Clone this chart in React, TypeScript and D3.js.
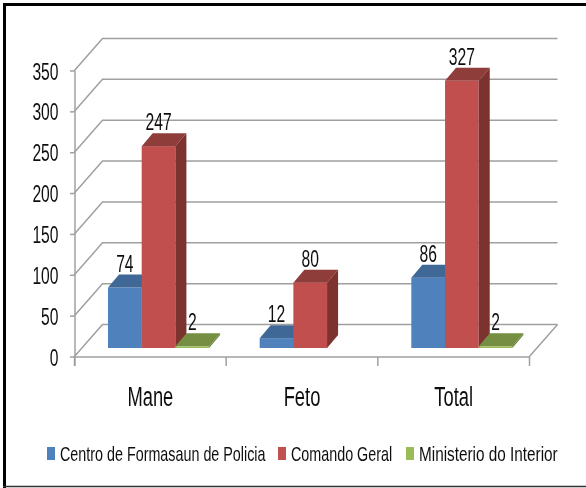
import React from "react";
import * as d3 from "d3";

const categories = ["Mane", "Feto", "Total"];
const seriesNames = ["Centro de Formasaun de Policia", "Comando Geral", "Ministerio do Interior"];
const centro = [74, 12, 86];
const comando = [247, 80, 327];
const ministerio = [2, 0, 2];
const yTicks = [0, 50, 100, 150, 200, 250, 300, 350];
const seriesValues = [centro, comando, ministerio];
const front = ["#4f81bd", "#c0504d", "#9bbb59"];
const topc = ["#3f6797", "#8f3c3a", "#748e42"];
const side = ["#3a5f8c", "#7c302e", "#6b8239"];
const legendX = [47, 278, 406];
const legendSx = [0.717, 0.717, 0.766];

const FONT = "'Liberation Sans',Arial,sans-serif";

function NText(props: { x: number; y: number; sx: number; size: number; anchor?: string; children: React.ReactNode }) {
  const { x, y, sx, size, anchor, children } = props;
  return (
    <text transform={`translate(${x},${y}) scale(${sx},1)`} textAnchor={anchor || "start"}
      fontFamily={FONT} fontSize={size} fill="#111">{children}</text>
  );
}

export default function App() {
  const x = d3.scaleBand<string>().domain(categories).range([74, 529]).padding(0);
  const h = d3.scaleLinear().domain([0, 350]).range([357, 71]);
  const bh = (v: number) => 357 - h(v);
  const dx = 28.5, dy = 32.5;
  const barW = 33.7, barDx = 11, barDy = 13, barBase = 348, barOff = 34;
  const ticks = [...categories.map((c) => x(c) as number), 529];
  return (
    <svg width={586} height={488} style={{ position: "absolute", left: 0, top: 0, background: "#fff" }}>
      <defs>
        <filter id="soft" x="-5%" y="-5%" width="110%" height="110%">
          <feGaussianBlur stdDeviation="0.45" />
        </filter>
      </defs>
      <rect x={0} y={0} width={586} height={488} fill="#fff" />
      <g filter="url(#soft)">
        <path d="M4.5,488V4.5H586" fill="none" stroke="#000" strokeWidth={3} />
        <line x1={3} x2={586} y1={486.5} y2={486.5} stroke="#333" strokeWidth={1.5} />
        {yTicks.map((t) => (
          <g key={t} stroke="#a0a0a0" strokeWidth={1.5} fill="none">
            <path d={`M74,${h(t)}L${74 + dx},${h(t) - dy}H${529 + dx}`} />
            <line x1={70} x2={74} y1={h(t)} y2={h(t)} />
          </g>
        ))}
        <g stroke="#a0a0a0" strokeWidth={1.5} fill="none">
          <line x1={75} x2={75} y1={h(350)} y2={366} />
          <line x1={74} x2={529} y1={357} y2={357} />
          <line x1={529} x2={529 + dx} y1={357} y2={357 - dy} />
          {ticks.map((t) => (
            <line key={t} x1={t + 0.5} x2={t + 0.5} y1={357} y2={366} />
          ))}
        </g>
        {categories.map((c, ci) =>
          seriesValues.map((vals, si) => {
            const v = vals[ci];
            if (v === 0) return null;
            const x0 = (x(c) as number) + barOff + si * barW;
            const H = bh(v);
            const yt = barBase - H;
            return (
              <g key={c + si}>
                <rect x={x0} y={yt} width={barW} height={H} fill={front[si]} />
                <path d={`M${x0},${yt}l${barDx},${-barDy}h${barW}l${-barDx},${barDy}z`} fill={topc[si]} />
                <path d={`M${x0 + barW},${yt}l${barDx},${-barDy}v${H}l${-barDx},${barDy}z`} fill={side[si]} />
              </g>
            );
          })
        )}
        {categories.map((c, ci) =>
          seriesValues.map((vals, si) => {
            const v = vals[ci];
            if (v === 0) return null;
            const x0 = (x(c) as number) + barOff + si * barW;
            return (
              <NText key={c + si} x={x0 + barW / 2} y={barBase - bh(v) - 16} sx={0.68} size={23} anchor="middle">{v}</NText>
            );
          })
        )}
        {yTicks.map((t) => (
          <NText key={t} x={58.5} y={h(t) + 8.5} sx={0.68} size={23} anchor="end">{t}</NText>
        ))}
        {categories.map((c) => (
          <NText key={c} x={(x(c) as number) + x.bandwidth() / 2 + 0.5} y={405.5} sx={0.68} size={27} anchor="middle">{c}</NText>
        ))}
        {seriesNames.map((s, i) => (
          <g key={s}>
            <rect x={legendX[i]} y={447} width={8} height={13} fill={front[i]} />
            <NText x={legendX[i] + 13} y={460.5} sx={legendSx[i]} size={20}>{s}</NText>
          </g>
        ))}
      </g>
    </svg>
  );
}
